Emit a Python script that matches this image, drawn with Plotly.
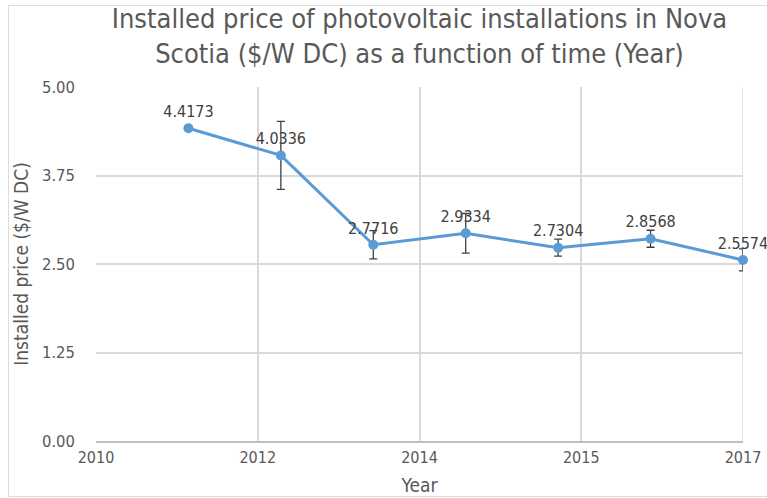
import plotly.graph_objects as go

years = [2011, 2012, 2013, 2014, 2015, 2016, 2017]
prices = [4.4173, 4.0336, 2.7716, 2.9334, 2.7304, 2.8568, 2.5574]
errors = [0.03, 0.48, 0.20, 0.28, 0.12, 0.12, 0.155]
price_labels = ["4.4173", "4.0336", "2.7716", "2.9334", "2.7304", "2.8568", "2.5574"]
x_tick_vals = [2010, 2011.75, 2013.5, 2015.25, 2017]
x_tick_text = ["2010", "2012", "2014", "2015", "2017"]
y_tick_vals = [0, 1.25, 2.5, 3.75, 5]

FONT = "DejaVu Sans Condensed, DejaVu Sans, sans-serif"
GRAY = "#595959"
W, H = 767, 498
L, R, T, B = 96, 24, 87, 57
PW, PH = W - L - R, H - T - B

fig = go.Figure()
fig.add_trace(go.Scatter(
    x=years, y=prices,
    mode="lines+markers+text",
    text=price_labels,
    textposition="top center",
    textfont=dict(family=FONT, size=16, color="#404040"),
    line=dict(color="#5B9BD5", width=3),
    marker=dict(color="#5B9BD5", size=10),
    error_y=dict(type="data", array=errors, visible=True, color="#404040", thickness=1.3, width=4),
    cliponaxis=False,
    showlegend=False,
))

fig.update_layout(
    width=W, height=H,
    paper_bgcolor="white",
    plot_bgcolor="white",
    margin=dict(l=L, r=R, t=T, b=B, autoexpand=False),
    title=dict(
        text="Installed price of photovoltaic installations in Nova<br>Scotia ($/W DC) as a function of time (Year)",
        x=(L + PW / 2) / W, xanchor="center", xref="container",
        y=1 - 28 / H, yanchor="top", yref="container",
        font=dict(family=FONT, size=27, color=GRAY),
    ),
    font=dict(family=FONT, color=GRAY),
)
fig.update_xaxes(
    range=[2010, 2017],
    tickvals=x_tick_vals, ticktext=x_tick_text,
    showgrid=True, gridcolor="#d9d9d9", gridwidth=1.5,
    showline=True, linecolor="#bfbfbf", linewidth=1.5,
    zeroline=False,
    tickfont=dict(family=FONT, size=16, color=GRAY),
    ticklabelstandoff=1,
    title=dict(text="Year", font=dict(family=FONT, size=19, color=GRAY), standoff=13),
    ticks="",
    automargin=False,
)
fig.update_yaxes(
    range=[0, 5],
    tickvals=y_tick_vals, tickformat=".2f",
    showgrid=True, gridcolor="#d9d9d9", gridwidth=1.5,
    zeroline=False,
    tickfont=dict(family=FONT, size=16.5, color=GRAY),
    ticklabelstandoff=20,
    title=dict(text="Installed price ($/W DC)", font=dict(family=FONT, size=19, color=GRAY), standoff=8),
    ticks="",
    automargin=False,
)
fig.add_shape(type="line", xref="x", yref="paper", x0=2017, x1=2017, y0=0, y1=1,
              line=dict(color="#d9d9d9", width=1.5), layer="below")
fig.add_shape(type="rect", xref="paper", yref="paper",
              x0=-(L - 8.5) / PW, x1=1 + (R + 10) / PW,
              y0=-(B - 1.5) / PH, y1=1 + (T - 5.5) / PH,
              line=dict(color="#dcdcdc", width=1), layer="below")

fig.write_html("out.html",
               config={"displayModeBar": False},
               post_script="document.body.style.margin='0';document.body.style.overflow='hidden';")
